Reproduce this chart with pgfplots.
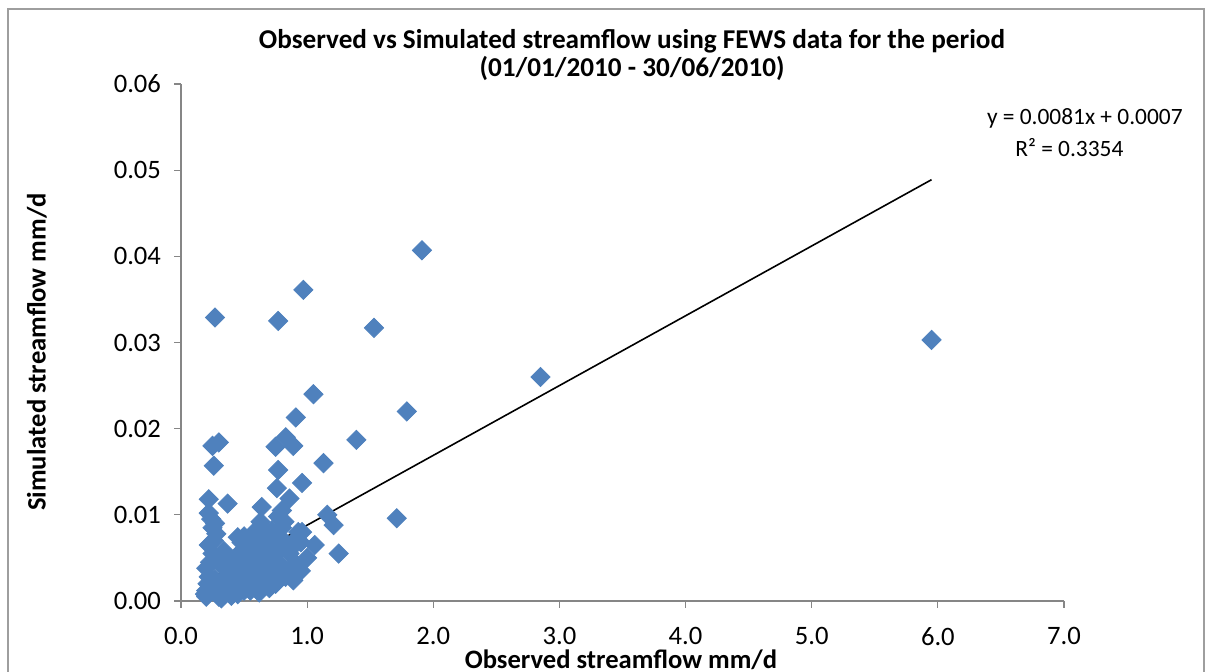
\documentclass[border=0pt]{standalone}
\usepackage{fontspec}
\setmainfont{Carlito}
\usepackage{pgfplots}
\pgfplotsset{compat=1.18}
\definecolor{excelblue}{HTML}{4F81BD}
\definecolor{axgray}{HTML}{868686}
\begin{document}
\begin{tikzpicture}[x=1pt,y=1pt]
\useasboundingbox (0,0) rectangle (604.5,336);
\draw[axgray!80, line width=0.6pt] (4,-2) -- (4,331.5) -- (602,331.5) -- (602,-2);
\begin{axis}[at={(90.5pt,35.5pt)}, anchor=origin, scale only axis,
  width=441.5pt, height=258.5pt,
  xmin=0, xmax=7, ymin=0, ymax=0.06, clip=false,
  axis x line*=bottom, axis y line*=left,
  axis line style={axgray, line width=0.6pt},
  xtick={0,1,2,3,4,5,6,7}, ytick={0,0.01,0.02,0.03,0.04,0.05,0.06},
  tick style={axgray, line width=0.6pt}, major tick length=3.5pt, tick align=outside,
  /pgf/number format/assume math mode=true,
  xticklabel style={/pgf/number format/fixed, /pgf/number format/precision=1, /pgf/number format/fixed zerofill, font=\fontsize{13.3}{16}\selectfont, yshift=-6pt},
  yticklabel style={/pgf/number format/fixed, /pgf/number format/precision=2, /pgf/number format/fixed zerofill, font=\fontsize{13.3}{16}\selectfont, xshift=-3pt},
  scaled y ticks=false,
]
\addplot[only marks, mark=square*, mark size=3.4pt, mark options={rotate=45, fill=excelblue, draw=excelblue}] coordinates {
(5.95,0.0303) (2.85,0.026) (1.91,0.0407) (1.53,0.0317) (0.97,0.0361) (0.77,0.0325) (0.27,0.0329)
(1.79,0.022) (1.71,0.0096) (1.39,0.0187) (1.13,0.016) (1.05,0.024) (0.91,0.0213)
(1.16,0.0100) (1.21,0.0088) (1.25,0.0055) (1.06,0.0065) (0.96,0.0137) (0.89,0.018) (0.83,0.019)
(0.75,0.0179) (0.77,0.0152) (0.76,0.0131) (0.86,0.0119) (0.96,0.0080) (0.80,0.0105) (0.64,0.0109)
(0.19,0.0008) (0.20,0.0012) (0.20,0.0005) (0.21,0.0020) (0.22,0.0028) (0.20,0.0038) (0.23,0.0045)
(0.25,0.0055) (0.22,0.0065) (0.26,0.0070) (0.28,0.0078) (0.25,0.0085) (0.27,0.0090) (0.24,0.0095)
(0.22,0.0102) (0.22,0.0118) (0.37,0.0113) (0.26,0.0157) (0.25,0.0180) (0.30,0.0184)
(0.30,0.0005) (0.32,0.0003) (0.35,0.0008) (0.28,0.0012) (0.30,0.0018) (0.33,0.0022) (0.27,0.0025)
(0.38,0.0015) (0.40,0.0006) (0.42,0.0010) (0.45,0.0018) (0.37,0.0030) (0.41,0.0035) (0.44,0.0028)
(0.48,0.0040) (0.50,0.0048) (0.46,0.0055) (0.52,0.0060) (0.55,0.0052) (0.48,0.0068) (0.50,0.0075)
(0.56,0.0070) (0.60,0.0065) (0.58,0.0080) (0.62,0.0078) (0.65,0.0085) (0.63,0.0092) (0.55,0.0035)
(0.60,0.0040) (0.58,0.0025) (0.52,0.0020) (0.55,0.0012) (0.60,0.0015) (0.64,0.0022) (0.67,0.0030)
(0.70,0.0038) (0.66,0.0045) (0.70,0.0055) (0.72,0.0060) (0.68,0.0068) (0.75,0.0070) (0.78,0.0075)
(0.72,0.0082) (0.80,0.0085) (0.82,0.0092) (0.77,0.0098) (0.93,0.0080) (0.76,0.0045) (0.80,0.0040)
(0.85,0.0035) (0.89,0.0024) (0.90,0.0030) (0.92,0.0042) (0.95,0.0035) (1.00,0.0050) (0.86,0.0055)
(0.84,0.0065) (0.72,0.0028) (0.75,0.0032) (0.62,0.0058) (0.68,0.0075) (0.57,0.0045) (0.45,0.0008)
(0.50,0.0012) (0.38,0.0042) (0.43,0.0050) (0.33,0.0040) (0.30,0.0045) (0.34,0.0058) (0.62,0.0010)
(0.70,0.0015) (0.66,0.0018) (0.75,0.0020) (0.83,0.0028) (0.73,0.0050) (0.79,0.0060) (0.88,0.0062)
(0.90,0.0070) (0.95,0.0068) (0.60,0.0030) (0.52,0.0032) (0.47,0.0025) (0.53,0.0042) (0.40,0.0022)
(0.36,0.0018) (0.44,0.0045) (0.45,0.0074)
};
\addplot[black, line width=0.8pt, no marks] coordinates {(0.18,0.002158) (5.95,0.048895)};
\end{axis}
\node[font=\fontsize{13.6}{16}\selectfont\bfseries, inner sep=0pt] at (316,315.5) {Observed vs Simulated streamflow using FEWS data for the period};
\node[font=\fontsize{13.6}{16}\selectfont\bfseries, inner sep=0pt] at (316,302) {(01/01/2010 - 30/06/2010)};
\node[font=\fontsize{13.3}{16}\selectfont\bfseries] at (310.5,6) {Observed streamflow mm/d};
\node[font=\fontsize{13.3}{16}\selectfont\bfseries, rotate=90] at (18.5,160) {Simulated streamflow mm/d};
\node[font=\fontsize{11.7}{14}\selectfont, anchor=east, inner sep=0pt] at (591.5,277) {y = 0.0081x + 0.0007};
\node[font=\fontsize{11.7}{14}\selectfont, anchor=west, inner sep=0pt] at (507.5,262) {R² = 0.3354};
\end{tikzpicture}
\end{document}
